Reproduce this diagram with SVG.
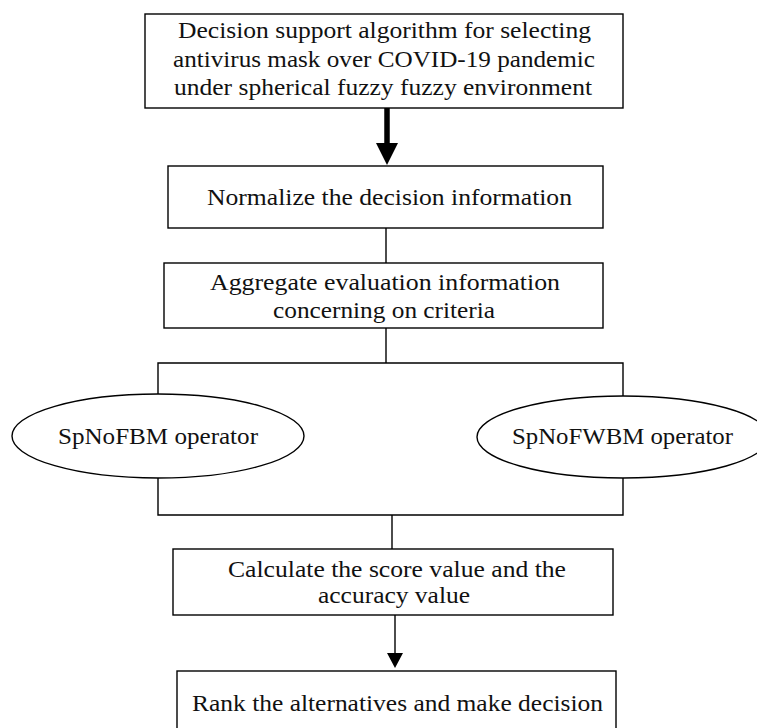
<svg xmlns="http://www.w3.org/2000/svg" width="757" height="728" viewBox="0 0 757 728">
<style>
.box{fill:#fff;stroke:#000;stroke-width:1.4}
.ln{fill:none;stroke:#000;stroke-width:1.4}
.t{font-family:"Liberation Serif","DejaVu Serif",serif;font-size:23px;fill:#111}
</style>
<rect width="757" height="728" fill="#fff"/>
<g id="connectors">
<line class="ln" x1="387" y1="108" x2="387" y2="145" style="stroke-width:5.5"/>
<polygon points="376,143 398,143 387,165" fill="#000"/>
<line class="ln" x1="386" y1="228" x2="386" y2="263"/>
<line class="ln" x1="386" y1="328" x2="386" y2="363"/>
<polyline class="ln" points="158,394 158,363 623,363 623,396"/>
<polyline class="ln" points="158,478 158,515 623,515 623,478"/>
<line class="ln" x1="392" y1="515" x2="392" y2="549"/>
<line class="ln" x1="395" y1="615" x2="395" y2="655"/>
<polygon points="387,653 403,653 395,668" fill="#000"/>
</g>
<g id="n1">
<rect class="box" x="145" y="14" width="478" height="94"/>
<text class="t" x="178" y="38" textLength="413" lengthAdjust="spacingAndGlyphs">Decision support algorithm for selecting</text>
<text class="t" x="173" y="67" textLength="422" lengthAdjust="spacingAndGlyphs">antivirus mask over COVID-19 pandemic</text>
<text class="t" x="174" y="95" textLength="418" lengthAdjust="spacingAndGlyphs">under spherical fuzzy fuzzy environment</text>
</g>
<g id="n2">
<rect class="box" x="168" y="166" width="435" height="62"/>
<text class="t" x="207" y="205" textLength="365" lengthAdjust="spacingAndGlyphs">Normalize the decision information</text>
</g>
<g id="n3">
<rect class="box" x="164" y="263" width="439" height="65"/>
<text class="t" x="210" y="290" textLength="350" lengthAdjust="spacingAndGlyphs">Aggregate evaluation information</text>
<text class="t" x="273" y="318" textLength="222" lengthAdjust="spacingAndGlyphs">concerning on criteria</text>
</g>
<g id="n4">
<ellipse class="box" cx="158" cy="436" rx="146" ry="42"/>
<text class="t" x="58" y="444" textLength="200" lengthAdjust="spacingAndGlyphs">SpNoFBM operator</text>
</g>
<g id="n5">
<ellipse class="box" cx="623" cy="437" rx="146" ry="41"/>
<text class="t" x="512" y="444" textLength="221" lengthAdjust="spacingAndGlyphs">SpNoFWBM operator</text>
</g>
<g id="n6">
<rect class="box" x="173" y="549" width="440" height="66"/>
<text class="t" x="228" y="577" textLength="338" lengthAdjust="spacingAndGlyphs">Calculate the score value and the</text>
<text class="t" x="318" y="603" textLength="152" lengthAdjust="spacingAndGlyphs">accuracy value</text>
</g>
<g id="n7">
<rect class="box" x="177" y="671" width="439" height="70"/>
<text class="t" x="192" y="711" textLength="411" lengthAdjust="spacingAndGlyphs">Rank the alternatives and make decision</text>
</g>
</svg>
